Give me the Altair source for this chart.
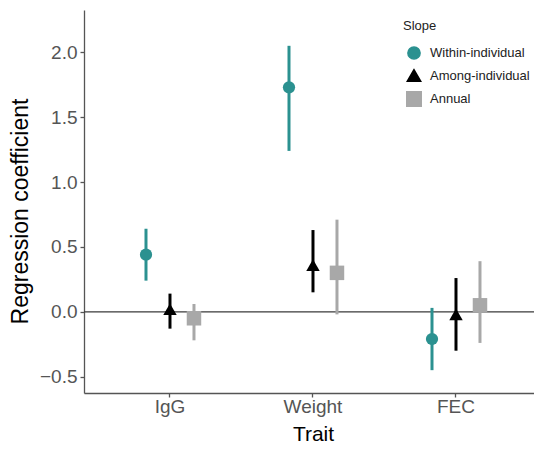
import altair as alt
import pandas as pd

traits = ["IgG", "Weight", "FEC"]
slopes = ["Within-individual", "Among-individual", "Annual"]
colors = ["#2b9190", "#000000", "#a8a8a8"]
shapes = ["circle", "triangle-up", "square"]
mark_sizes = [150, 210, 135]

within_est = [0.44, 1.73, -0.21]
within_lo = [0.24, 1.24, -0.45]
within_hi = [0.64, 2.05, 0.03]
among_est = [0.02, 0.36, -0.02]
among_lo = [-0.13, 0.15, -0.30]
among_hi = [0.14, 0.63, 0.26]
annual_est = [-0.05, 0.30, 0.05]
annual_lo = [-0.22, -0.02, -0.24]
annual_hi = [0.06, 0.71, 0.39]

y_ticks = [-0.5, 0.0, 0.5, 1.0, 1.5, 2.0]

rows = []
for slope, est, lo, hi in [
    (slopes[0], within_est, within_lo, within_hi),
    (slopes[1], among_est, among_lo, among_hi),
    (slopes[2], annual_est, annual_lo, annual_hi),
]:
    for t, e, l, h in zip(traits, est, lo, hi):
        rows.append({"Trait": t, "Slope": slope, "est": e, "lo": l, "hi": h})
df = pd.DataFrame(rows)

FONT = "Liberation Sans"

x_enc = alt.X(
    "Trait:N",
    sort=traits,
    scale=alt.Scale(paddingInner=0, paddingOuter=0.0734, align=0.69),
    axis=alt.Axis(
        title="Trait",
        labelAngle=0,
        labelPadding=0,
        titleX=229,
        titleY=47,
        titleBaseline="alphabetic",
    ),
)
# two blank spacer slots keep the dodge narrow (ggplot dodge width)
xoff_enc = alt.XOffset(
    "Slope:N",
    scale=alt.Scale(type="point", domain=[" ", *slopes, "  "], padding=0.98),
)
y_scale = alt.Scale(domain=[-0.626, 2.326], nice=False, zero=False)
color_scale = alt.Scale(domain=slopes, range=colors)
legend = alt.Legend(title="Slope")

zero = (
    alt.Chart(pd.DataFrame({"zero": [0.0]}))
    .mark_rule(color="#3a3a3a", strokeWidth=1.2)
    .encode(y=alt.Y("zero:Q", scale=y_scale))
)

bars = (
    alt.Chart(df)
    .mark_rule(strokeWidth=3)
    .encode(
        x=x_enc,
        xOffset=xoff_enc,
        y=alt.Y(
            "lo:Q",
            scale=y_scale,
            axis=alt.Axis(
                values=y_ticks,
                format=".1f",
                title="Regression coefficient",
                titleX=-57,
                titleY=201,
                titleFontSize=23,
                titleBaseline="alphabetic",
                labelPadding=3,
            ),
        ),
        y2="hi:Q",
        color=alt.Color("Slope:N", sort=slopes, scale=color_scale, legend=legend),
    )
)

points = (
    alt.Chart(df)
    .mark_point(filled=True, opacity=1)
    .encode(
        x=x_enc,
        xOffset=xoff_enc,
        y=alt.Y("est:Q", scale=y_scale),
        color=alt.Color("Slope:N", sort=slopes, scale=color_scale, legend=legend),
        shape=alt.Shape(
            "Slope:N",
            sort=slopes,
            scale=alt.Scale(domain=slopes, range=shapes),
            legend=legend,
        ),
        size=alt.Size(
            "Slope:N", scale=alt.Scale(domain=slopes, range=mark_sizes), legend=None
        ),
    )
)

chart = (
    alt.layer(zero, bars, points)
    .properties(
        width=450,
        height=383,
        padding={"left": 76, "top": 2, "right": 0, "bottom": 52},
        autosize=alt.AutoSizeParams(type="none"),
    )
    .configure_view(stroke=None)
    .configure_axis(
        grid=False,
        domainColor="#555555",
        domainWidth=1.3,
        tickColor="#555555",
        tickWidth=1.3,
        tickSize=4,
        labelColor="#555555",
        labelFont=FONT,
        labelFontSize=19,
        titleFont=FONT,
        titleFontSize=21,
        titleFontWeight="normal",
        titleColor="#000000",
    )
    .configure_legend(
        orient="none",
        legendX=319,
        legendY=10,
        padding=0,
        titleFont=FONT,
        titleFontSize=13,
        titleFontWeight="normal",
        titleColor="#222222",
        titlePadding=13,
        labelFont=FONT,
        labelFontSize=13,
        labelColor="#222222",
        labelLimit=200,
        symbolSize=190,
        symbolOpacity=1,
        symbolOffset=3,
        rowPadding=3,
        labelOffset=8,
    )
)

chart.save("out.html", embed_options={"renderer": "svg", "actions": False})
